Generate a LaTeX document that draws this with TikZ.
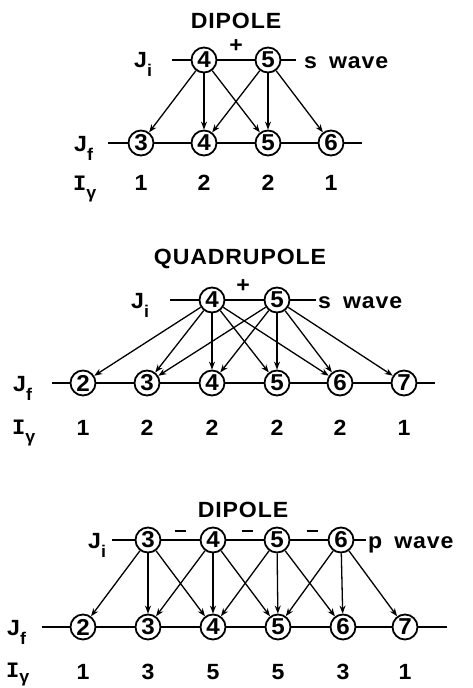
\documentclass[tikz,border=0pt]{standalone}
\usepackage{fontspec}
\setmainfont[FakeStretch=1.05,LetterSpace=4]{Liberation Sans Bold}
\newfontfamily\serI{Liberation Mono Bold}
\usetikzlibrary{arrows.meta}
\newcommand\lsub[2][-9pt]{\raisebox{#1}{\fontsize{17}{17}\selectfont #2}}
\begin{document}
\begin{tikzpicture}[x=1pt,y=-1pt,
  every node/.style={font=\fontsize{22}{24}\selectfont, inner sep=0pt},
  lvl/.style={circle, draw, line width=1.8pt, minimum size=25pt, inner sep=0pt, fill=white, font=\fontsize{23}{24}\selectfont},
  arr/.style={line width=1.3pt, -{Stealth[length=8pt,width=6pt]}},
  hline/.style={line width=1.3pt}]
\useasboundingbox (0,0) rectangle (473,688);

% ---------------- top: dipole, s wave
\coordinate (t1l) at (108,143); \coordinate (t1r) at (362,143);
\coordinate (t0l) at (172,60);  \coordinate (t0r) at (296,60);
\draw[hline] (t0l) -- (t0r);
\draw[hline] (t1l) -- (t1r);
\node (tA4) [lvl] at (204,60) {4};
\node (tA5) [lvl] at (268,60) {5};
\node (tB3) [lvl] at (141,143) {3};
\node (tB4) [lvl] at (204,143) {4};
\node (tB5) [lvl] at (268,143) {5};
\node (tB6) [lvl] at (331,143) {6};
\node (tT) at (236,21) {DIPOLE};
\node (tP) at (236,46) {+};
\node (tJi) [anchor=base west] at (134,67) {J\lsub{i}};
\node (tW) [anchor=base west] at (304,68) {s\hspace{12pt}wave};
\node (tJf) [anchor=base west] at (74,151) {J\lsub{f}};
\node (tI) [anchor=base west] at (73,190) {{\serI I}\lsub[-8pt]{γ}};
\node (tN3) at (141,183) {1};
\node (tN4) at (204,183) {2};
\node (tN5) at (268,183) {2};
\node (tN6) at (331,183) {1};
\foreach \s/\t in {4/3,4/4,4/5,5/4,5/5,5/6} \draw[arr] (tA\s) -- (tB\t);

% ---------------- middle: quadrupole, s wave
\coordinate (m1l) at (52,383); \coordinate (m1r) at (435,383);
\coordinate (m0l) at (170,300); \coordinate (m0r) at (316,300);
\draw[hline] (m0l) -- (m0r);
\draw[hline] (m1l) -- (m1r);
\node (mA4) [lvl] at (212,300) {4};
\node (mA5) [lvl] at (277,300) {5};
\node (mB2) [lvl] at (83,383) {2};
\node (mB3) [lvl] at (147,383) {3};
\node (mB4) [lvl] at (212,383) {4};
\node (mB5) [lvl] at (277,383) {5};
\node (mB6) [lvl] at (340,383) {6};
\node (mB7) [lvl] at (404,383) {7};
\node (mT) at (240,259) {QUADRUPOLE};
\node (mP) at (243,286) {+};
\node (mJi) [anchor=base west] at (131,308) {J\lsub{i}};
\node (mW) [anchor=base west] at (318,308) {s\hspace{12pt}wave};
\node (mJf) [anchor=base west] at (13,391) {J\lsub{f}};
\node (mI) [anchor=base west] at (12,434) {{\serI I}\lsub[-8pt]{γ}};
\node (mN2) at (83,428) {1};
\node (mN3) at (147,428) {2};
\node (mN4) at (212,428) {2};
\node (mN5) at (277,428) {2};
\node (mN6) at (340,428) {2};
\node (mN7) at (404,428) {1};
\foreach \s/\t in {4/2,4/3,4/4,4/5,4/6,5/3,5/4,5/5,5/6,5/7} \draw[arr] (mA\s) -- (mB\t);

% ---------------- bottom: dipole, p wave
\coordinate (b1l) at (42,627); \coordinate (b1r) at (447,627);
\coordinate (b0l) at (112,540); \coordinate (b0r) at (366,540);
\draw[hline] (b0l) -- (b0r);
\draw[hline] (b1l) -- (b1r);
\node (bA3) [lvl] at (148,540) {3};
\node (bA4) [lvl] at (213,540) {4};
\node (bA5) [lvl] at (277,540) {5};
\node (bA6) [lvl] at (341,540) {6};
\node (bB2) [lvl] at (83,627) {2};
\node (bB3) [lvl] at (148,627) {3};
\node (bB4) [lvl] at (213,627) {4};
\node (bB5) [lvl] at (278,627) {5};
\node (bB6) [lvl] at (343,627) {6};
\node (bB7) [lvl] at (405,627) {7};
\node (bT) at (243,510) {DIPOLE};
\node (bM1) at (180,531) {\rule{11pt}{2pt}};
\node (bM2) at (247,531) {\rule{11pt}{2pt}};
\node (bM3) at (312,531) {\rule{11pt}{2pt}};
\node (bJi) [anchor=base west] at (88,548) {J\lsub{i}};
\node (bW) [anchor=base west] at (368,548) {p\hspace{12pt}wave};
\node (bJf) [anchor=base west] at (7,635) {J\lsub{f}};
\node (bI) [anchor=base west] at (6,677) {{\serI I}\lsub[-5pt]{γ}};
\node (bN2) at (83,672) {1};
\node (bN3) at (148,672) {3};
\node (bN4) at (213,672) {5};
\node (bN5) at (278,672) {5};
\node (bN6) at (343,672) {3};
\node (bN7) at (405,672) {1};
\foreach \s/\t in {3/2,3/3,3/4,4/3,4/4,4/5,5/4,5/5,5/6,6/5,6/6,6/7} \draw[arr] (bA\s) -- (bB\t);
\end{tikzpicture}
\end{document}
